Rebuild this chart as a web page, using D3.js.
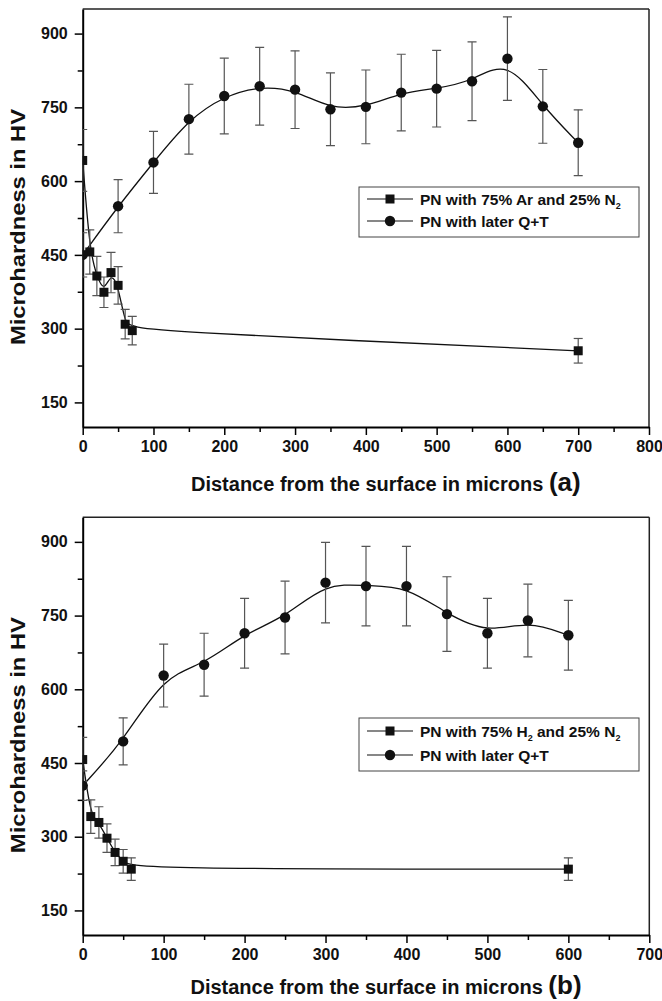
<!DOCTYPE html>
<html>
<head>
<meta charset="utf-8">
<script src="https://cdn.jsdelivr.net/npm/d3@7"></script>
<style>
  body { margin: 0; background: #fff; }
  svg { display: block; }
  text { font-family: "Liberation Sans", Arial, sans-serif; }
</style>
</head>
<body>
<svg id="chart" width="662" height="1001"></svg>
<script>
// ---------- Data: panel (a) ----------
const xA_sq = [0, 10, 20, 30, 40, 50, 60, 70, 700];
const yA_sq = [642, 456, 407, 374, 414, 388, 309, 296, 255];
const eA_sq = [63, 45, 40, 31, 41, 38, 30, 29, 25];

const xA_ci = [0, 50, 100, 150, 200, 250, 300, 350, 400, 450, 500, 550, 600, 650, 700];
const yA_ci = [450, 549, 638, 726, 773, 793, 786, 746, 751, 780, 788, 803, 849, 752, 678];
const eA_ci = [45, 54, 63, 71, 77, 79, 79, 74, 75, 78, 78, 80, 85, 75, 67];

// ---------- Data: panel (b) ----------
const xB_sq = [0, 10, 20, 30, 40, 50, 60, 600];
const yB_sq = [457, 341, 329, 297, 268, 250, 234, 234];
const eB_sq = [45, 34, 32, 29, 27, 24, 23, 23];

const xB_ci = [0, 50, 100, 150, 200, 250, 300, 350, 400, 450, 500, 550, 600];
const yB_ci = [404, 494, 628, 650, 714, 746, 817, 810, 810, 753, 714, 740, 710];
const eB_ci = [30, 48, 64, 64, 71, 74, 82, 81, 81, 76, 71, 74, 71];

// ---------- Tick values ----------
const yTicks = [150, 300, 450, 600, 750, 900];
const yMinor = [225, 375, 525, 675, 825];
const xTicksA = [0, 100, 200, 300, 400, 500, 600, 700, 800];
const xTicksB = [0, 100, 200, 300, 400, 500, 600, 700];

const legendA = ["PN with 75% Ar and 25% N", "PN with later Q+T"];
const legendB = ["PN with 75% H", "PN with later Q+T"];

const svg = d3.select("#chart");

function zip(xs, ys, es) { return xs.map((x, i) => ({ x, y: ys[i], e: es[i] })); }

function panel(cfg) {
  const { left, right, top, bottom, xMax, xTicks, sq, ci, id, letter, titleY, legend } = cfg;
  const x = d3.scaleLinear().domain([0, xMax]).range([left, right]);
  const y = d3.scaleLinear().domain([100, 950]).range([bottom, top]);
  const g = svg.append("g");

  g.append("clipPath").attr("id", id).append("rect")
    .attr("x", left).attr("y", top).attr("width", right - left).attr("height", bottom - top);

  // frame top/right
  g.append("line").attr("x1", left).attr("x2", right).attr("y1", top).attr("y2", top)
    .attr("stroke", "#222").attr("stroke-width", 1.5);
  g.append("line").attr("x1", right).attr("x2", right).attr("y1", top).attr("y2", bottom)
    .attr("stroke", "#222").attr("stroke-width", 1.5);

  // minor x ticks
  const xMinor = d3.range(50, xMax, 100);
  g.append("g").attr("transform", `translate(0,${bottom})`)
    .call(d3.axisBottom(x).tickValues(xMinor).tickSize(5).tickFormat(""))
    .call(a => a.select(".domain").remove())
    .selectAll("line").attr("stroke", "#000").attr("stroke-width", 1.5);
  const ax = g.append("g").attr("transform", `translate(0,${bottom})`)
    .call(d3.axisBottom(x).tickValues(xTicks).tickSize(8).tickSizeOuter(0).tickPadding(6));
  ax.select(".domain").attr("stroke", "#000").attr("stroke-width", 2);
  ax.selectAll(".tick line").attr("stroke", "#000").attr("stroke-width", 1.5);
  ax.selectAll("text").attr("font-size", 16).attr("font-weight", "bold").attr("fill", "#111")
    .attr("font-family", "Liberation Sans, Arial, sans-serif");

  // minor y ticks
  g.append("g").attr("transform", `translate(${left},0)`)
    .call(d3.axisLeft(y).tickValues(yMinor).tickSize(5).tickFormat(""))
    .call(a => a.select(".domain").remove())
    .selectAll("line").attr("stroke", "#000").attr("stroke-width", 1.5);
  const ay = g.append("g").attr("transform", `translate(${left},0)`)
    .call(d3.axisLeft(y).tickValues(yTicks).tickSize(8).tickSizeOuter(0).tickPadding(7));
  ay.select(".domain").attr("stroke", "#000").attr("stroke-width", 2);
  ay.selectAll(".tick line").attr("stroke", "#000").attr("stroke-width", 1.5);
  ay.selectAll("text").attr("font-size", 16).attr("font-weight", "bold").attr("fill", "#111")
    .attr("font-family", "Liberation Sans, Arial, sans-serif");

  // y title
  g.append("text")
    .attr("transform", `translate(25,${(top + bottom) / 2 + 9}) rotate(-90)`)
    .attr("text-anchor", "middle").attr("font-size", 21).attr("font-weight", "bold").attr("fill", "#111")
    .attr("textLength", 236).attr("lengthAdjust", "spacingAndGlyphs")
    .text("Microhardness in HV");

  // x title
  const xt = g.append("text").attr("x", (left + right) / 2 + 20).attr("y", titleY)
    .attr("text-anchor", "middle").attr("font-weight", "bold").attr("fill", "#111");
  xt.append("tspan").attr("font-size", 20).text("Distance from the surface in microns ");
  xt.append("tspan").attr("font-size", 26).text(letter);

  const plot = g.append("g").attr("clip-path", `url(#${id})`);
  const line = d3.line().x(d => x(d.x)).y(d => y(d.y)).curve(d3.curveBasis);

  [sq, ci].forEach(data => {
    plot.append("path").datum(data).attr("d", line)
      .attr("fill", "none").attr("stroke", "#111").attr("stroke-width", 1.3);
  });

  // error bars
  [sq, ci].forEach(data => {
    const eb = plot.append("g").attr("stroke", "#555").attr("stroke-width", 1.2);
    data.forEach(d => {
      eb.append("line").attr("x1", x(d.x)).attr("x2", x(d.x)).attr("y1", y(d.y - d.e)).attr("y2", y(d.y + d.e));
      eb.append("line").attr("x1", x(d.x) - 4.5).attr("x2", x(d.x) + 4.5).attr("y1", y(d.y - d.e)).attr("y2", y(d.y - d.e));
      eb.append("line").attr("x1", x(d.x) - 4.5).attr("x2", x(d.x) + 4.5).attr("y1", y(d.y + d.e)).attr("y2", y(d.y + d.e));
    });
  });

  // markers
  plot.append("g").selectAll("rect").data(sq).join("rect")
    .attr("x", d => x(d.x) - 4.5).attr("y", d => y(d.y) - 4.5)
    .attr("width", 9).attr("height", 9).attr("fill", "#111");
  plot.append("g").selectAll("circle").data(ci).join("circle")
    .attr("cx", d => x(d.x)).attr("cy", d => y(d.y)).attr("r", 5.2).attr("fill", "#111");

  // legend
  const L = legend;
  g.append("rect").attr("x", L.x).attr("y", L.y).attr("width", L.w).attr("height", L.h)
    .attr("fill", "#fff").attr("stroke", "#444").attr("stroke-width", 1);
  L.rows.forEach((ry, i) => {
    g.append("line").attr("x1", 367).attr("x2", 413).attr("y1", ry).attr("y2", ry)
      .attr("stroke", "#111").attr("stroke-width", 1.2);
    if (i === 0) {
      g.append("rect").attr("x", 390 - 4.5).attr("y", ry - 4.5).attr("width", 9).attr("height", 9).attr("fill", "#111");
    } else {
      g.append("circle").attr("cx", 390).attr("cy", ry).attr("r", 5.2).attr("fill", "#111");
    }
    const t = g.append("text").attr("x", 420).attr("y", ry + 6)
      .attr("font-size", 15.5).attr("font-weight", "bold").attr("fill", "#111");
    t.append("tspan").text(L.labels[i]);
    if (i === 0) {
      if (L.mid) {
        t.append("tspan").attr("font-size", 9).attr("dy", 4).text("2");
        t.append("tspan").attr("dy", -4).text(L.mid);
      }
      t.append("tspan").attr("font-size", 9).attr("dy", 4).text("2");
    }
  });
}

panel({
  id: "clipA", left: 82.7, right: 649, top: 9, bottom: 427, xMax: 800, xTicks: xTicksA,
  sq: zip(xA_sq, yA_sq, eA_sq), ci: zip(xA_ci, yA_ci, eA_ci), letter: "(a)", titleY: 491,
  legend: { x: 359, y: 187, w: 280, h: 50, rows: [199, 221], labels: legendA, mid: null }
});
panel({
  id: "clipB", left: 82.7, right: 649.3, top: 517.3, bottom: 935, xMax: 700, xTicks: xTicksB,
  sq: zip(xB_sq, yB_sq, eB_sq), ci: zip(xB_ci, yB_ci, eB_ci), letter: "(b)", titleY: 994,
  legend: { x: 359, y: 718, w: 280, h: 53, rows: [731, 755], labels: legendB, mid: " and 25% N" }
});
</script>
</body>
</html>
